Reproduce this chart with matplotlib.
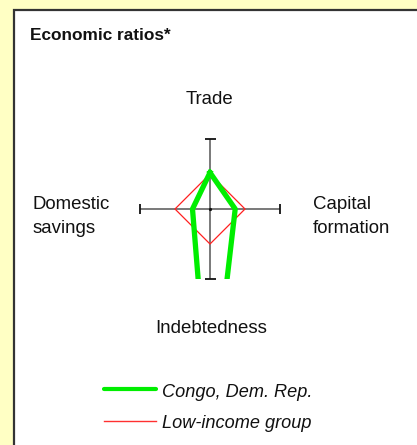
import matplotlib
matplotlib.use("Agg")
import matplotlib.pyplot as plt
from matplotlib.lines import Line2D
from matplotlib.patches import Rectangle

plt.rcParams['font.family'] = ['Liberation Sans', 'DejaVu Sans']

# ---- data ----
axes_names = ["Trade", "Capital formation", "Indebtedness", "Domestic savings"]
country_name = "Congo, Dem. Rep."
group_name = "Low-income group"
country_values = [0.52, 0.36, 3.1, 0.25]   # indebtedness runs off the chart
group_values = [0.50, 0.50, 0.50, 0.50]

W, H = 417, 445
DPI = 100
fig = plt.figure(figsize=(W / DPI, H / DPI), dpi=DPI)
fig.patch.set_facecolor('#FFFFC4')

def fx(px):
    return px / W

def fy(py):
    return 1 - py / H

# white panel with dark border on top/left
panel = Rectangle((fx(13.5), -0.1), 1.2, fy(10.5) + 0.1, transform=fig.transFigure,
                  facecolor='white', edgecolor='#333333', linewidth=1.6, zorder=-5)
fig.patches.append(panel)

# diamond axes: x from -1..1 maps to px 140..280, y -1..1 maps to py 279..139
cx, cy, R = 210, 209, 70
ax = fig.add_axes([fx(cx - R), fy(cy + R), 2 * R / W, 2 * R / H], zorder=2)
ax.set_xlim(-1, 1)
ax.set_ylim(-1, 1)
ax.axis('off')
ax.patch.set_alpha(0)

# axis cross
ax.plot([-1, 1], [0, 0], color='#6e6e6e', lw=1.3, zorder=1, solid_capstyle='butt')
ax.plot([0, 0], [-1, 1], color='#6e6e6e', lw=1.3, zorder=1, solid_capstyle='butt')
cap = 5 / R
for (x0, y0, x1, y1) in [(-1, -cap, -1, cap), (1, -cap, 1, cap),
                         (-cap * 1.1, 1, cap * 1.1, 1), (-cap * 1.1, -1, cap * 1.1, -1)]:
    ax.plot([x0, x1], [y0, y1], color='#111111', lw=1.3, clip_on=False, zorder=2,
            solid_capstyle='butt')
ax.plot([0], [0], marker='o', ms=1.3, color='#111111', zorder=2)

def to_xy(vals):
    t, c, i, d = vals
    xs = [0, c, 0, -d, 0]
    ys = [t, 0, -i, 0, t]
    return xs, ys

gx, gy = to_xy(group_values)
ax.plot(gx, gy, color='#FF2020', lw=0.9, zorder=3)
cxs, cys = to_xy(country_values)
ax.plot(cxs, cys, color='#00EE00', lw=3.8, zorder=4, solid_joinstyle='round')

# labels
fs = 13.4
fig.text(fx(30), fy(40), "Economic ratios*", fontsize=12.4, fontweight='bold',
         ha='left', va='baseline', color='#111111')
fig.text(fx(210), fy(104), "Trade", fontsize=fs, ha='center', va='baseline', color='#111111')
fig.text(fx(313), fy(209.3), "Capital", fontsize=fs, ha='left', va='baseline', color='#111111')
fig.text(fx(313), fy(232.7), "formation", fontsize=fs, ha='left', va='baseline', color='#111111')
fig.text(fx(33), fy(209.3), "Domestic", fontsize=fs, ha='left', va='baseline', color='#111111')
fig.text(fx(33), fy(232.7), "savings", fontsize=fs, ha='left', va='baseline', color='#111111')
fig.text(fx(211), fy(333.3), "Indebtedness", fontsize=fs, ha='center', va='baseline',
         color='#111111')

# legend
fig.add_artist(Line2D([fx(104), fx(156)], [fy(389), fy(389)], color='#00EE00', lw=3.0,
                      solid_capstyle='round', transform=fig.transFigure))
fig.add_artist(Line2D([fx(104), fx(156)], [fy(421), fy(421)], color='#FF3030', lw=1.0,
                      transform=fig.transFigure))
fig.text(fx(162), fy(397.3), country_name, fontsize=13.1, style='italic', ha='left',
         va='baseline', color='#111111')
fig.text(fx(162), fy(428.3), group_name, fontsize=13.1, style='italic', ha='left',
         va='baseline', color='#111111')

fig.savefig("out.png", dpi=DPI, facecolor=fig.get_facecolor())
